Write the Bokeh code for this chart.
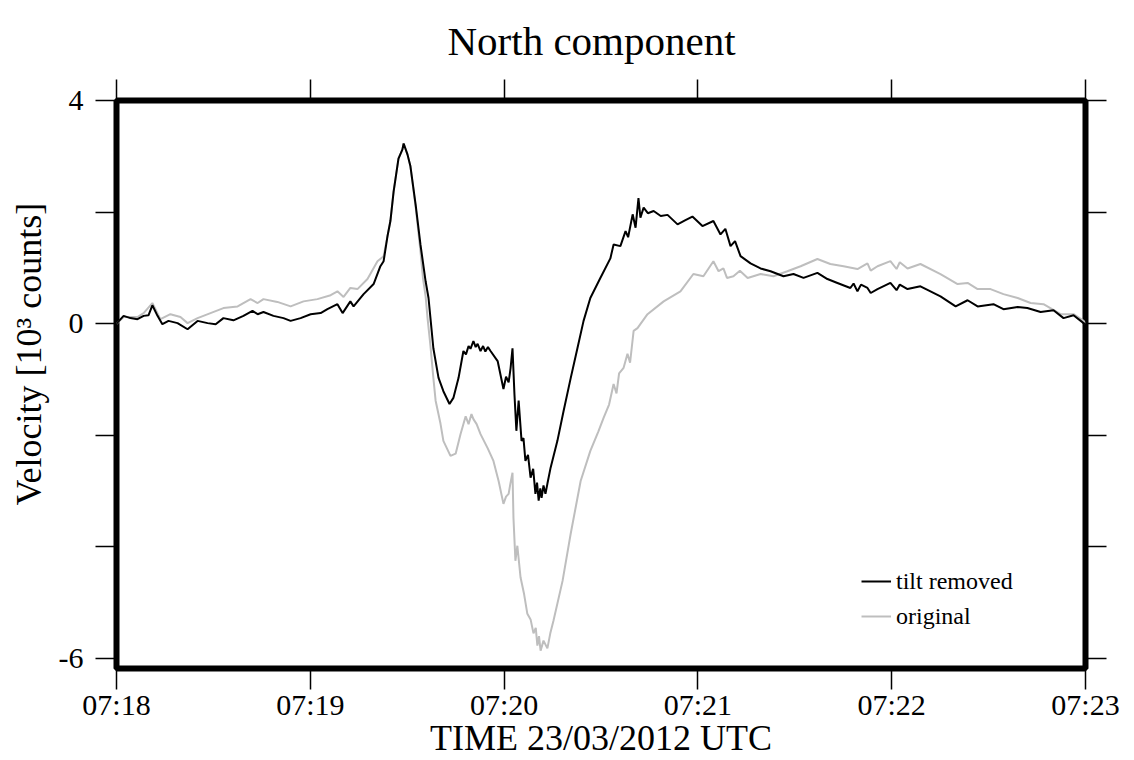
from bokeh.plotting import figure
from bokeh.models import FixedTicker, LinearAxis, Legend, LegendItem, Title
from bokeh.embed import file_html
from bokeh.resources import INLINE

FONT = "Liberation Serif"

title_text = "North component"
x_label = "TIME 23/03/2012 UTC"
y_label = "Velocity [10\u00b3 counts]"

# seconds since 07:18:00
x_ticks = [0, 60, 120, 180, 240, 300]
x_tick_labels = ["07:18", "07:19", "07:20", "07:21", "07:22", "07:23"]
y_ticks = [-6, -4, -2, 0, 2, 4]
y_tick_labels = ["-6", "", "", "0", "", "4"]

t_tilt = [0, 2.2, 4.3, 6.5, 8.4, 9.9, 11.1, 12.7, 14.2, 16.1,
          18.9, 22.0, 25.1, 28.2, 30.7, 33.1, 36.2, 39.3, 42.1, 43.7,
          45.5, 48.6, 51.7, 53.9, 57.0, 60.1, 63.2, 65.3, 68.4, 70.0,
          72.4, 73.4, 76.5, 79.6, 81.7, 82.7, 83.9, 84.8, 85.8, 87.3,
          88.5, 88.9, 90.1, 91.0, 92.6, 94.1, 95.7, 96.6, 97.2, 98.1,
          99.7, 101.2, 103.1, 104.3, 105.9, 107.4, 108.2, 109.0, 109.6, 110.5,
          111.2, 111.8, 112.7, 113.5, 114.2, 115.0, 115.8, 118.0, 119.8, 120.6,
          121.4, 122.0, 122.6, 123.2, 123.8, 124.5, 125.4, 126.0, 126.6, 127.4,
          128.2, 129.0, 129.7, 130.2, 130.7, 131.2, 131.6, 132.2, 132.8, 133.4,
          134.4, 136.5, 138.4, 140.6, 142.7, 144.6, 146.7, 149.8, 152.9, 153.9,
          156.0, 157.6, 158.4, 159.8, 160.7, 161.6, 162.2, 163.2, 164.5, 166.3,
          168.5, 170.6, 173.7, 176.0, 178.3, 181.4, 184.8, 187.0, 188.5, 190.1,
          191.5, 193.2, 196.3, 199.4, 202.5, 206.5, 209.6, 212.7, 217.0, 220.1,
          223.2, 227.2, 228.2, 229.4, 230.5, 232.5, 233.5, 235.6, 239.6, 241.5,
          242.5, 244.9, 248.9, 255.1, 259.8, 263.5, 266.6, 271.5, 274.6, 279.0,
          282.0, 286.1, 290.1, 293.2, 296.3, 299.4, 300]
v_tilt = [0.0, 0.14, 0.10, 0.08, 0.14, 0.15, 0.33, 0.14, -0.01, 0.05,
          0.01, -0.10, 0.05, 0.01, -0.01, 0.10, 0.06, 0.14, 0.23, 0.17,
          0.21, 0.14, 0.10, 0.05, 0.10, 0.17, 0.19, 0.26, 0.35, 0.19,
          0.40, 0.31, 0.53, 0.71, 1.03, 1.12, 1.57, 1.84, 2.37, 2.96,
          3.12, 3.23, 3.03, 2.82, 2.14, 1.42, 0.76, 0.46, 0.10, -0.44,
          -0.97, -1.21, -1.44, -1.33, -0.97, -0.49, -0.55, -0.40, -0.45, -0.31,
          -0.42, -0.36, -0.49, -0.40, -0.50, -0.42, -0.49, -0.67, -1.17, -0.95,
          -1.05, -0.80, -0.44, -1.26, -1.92, -1.38, -2.10, -2.05, -2.46, -2.35,
          -2.76, -2.60, -3.05, -2.85, -3.17, -2.95, -3.12, -2.90, -3.05, -2.87,
          -2.58, -2.10, -1.57, -0.98, -0.44, 0.05, 0.46, 0.82, 1.17, 1.42,
          1.39, 1.66, 1.55, 1.96, 1.72, 2.25, 1.90, 2.08, 1.98, 2.02,
          1.93, 1.95, 1.78, 1.85, 1.92, 1.75, 1.84, 1.60, 1.70, 1.39,
          1.48, 1.21, 1.08, 0.99, 0.94, 0.85, 0.89, 0.82, 0.91, 0.80,
          0.73, 0.64, 0.72, 0.58, 0.70, 0.64, 0.55, 0.62, 0.73, 0.60,
          0.70, 0.62, 0.67, 0.49, 0.31, 0.42, 0.31, 0.35, 0.26, 0.30,
          0.28, 0.21, 0.24, 0.10, 0.15, 0.01, 0.0]

t_orig = [0, 2.2, 6.5, 8.4, 11.1, 13.6, 16.7, 19.8, 22.0, 25.1,
          29.1, 33.1, 37.5, 41.5, 43.7, 45.5, 49.8, 53.9, 57.9, 62.2,
          66.3, 68.4, 70.3, 72.4, 74.6, 77.7, 80.8, 82.7, 83.9, 84.8,
          85.8, 87.3, 88.5, 88.9, 90.1, 91.0, 92.6, 94.1, 94.9, 95.7,
          96.3, 97.2, 98.1, 98.8, 100.3, 101.2, 103.4, 105.0, 106.5, 108.1,
          109.0, 109.9, 110.5, 111.5, 112.7, 114.9, 116.7, 118.3, 119.8, 120.6,
          121.4, 122.0, 122.6, 122.9, 123.5, 124.1, 125.1, 126.2, 127.2, 128.2,
          129.1, 129.8, 130.3, 130.8, 131.3, 132.2, 133.4, 134.3, 135.3, 138.1,
          140.6, 143.7, 146.7, 149.2, 150.8, 152.5, 153.9, 154.8, 155.6, 157.0,
          158.2, 159.0, 160.1, 161.3, 164.4, 169.4, 174.6, 178.6, 181.7, 184.8,
          186.4, 187.9, 189.0, 191.0, 193.0, 195.4, 199.4, 203.4, 207.7, 211.8,
          217.0, 221.0, 225.1, 229.4, 232.5, 233.5, 235.6, 239.6, 241.5, 242.5,
          244.9, 248.9, 255.1, 260.4, 263.5, 266.6, 270.6, 274.6, 279.0, 283.0,
          287.0, 292.3, 296.3, 299.4, 300]
v_orig = [0.0, 0.12, 0.12, 0.19, 0.37, 0.08, 0.17, 0.12, 0.01, 0.10,
          0.19, 0.28, 0.31, 0.44, 0.37, 0.44, 0.39, 0.31, 0.40, 0.44,
          0.51, 0.58, 0.48, 0.64, 0.62, 0.80, 1.12, 1.21, 1.57, 1.84,
          2.37, 2.96, 3.12, 3.23, 3.03, 2.82, 2.10, 1.30, 0.81, 0.49,
          0.10, -0.40, -0.97, -1.38, -1.79, -2.10, -2.37, -2.33, -1.98, -1.66,
          -1.80, -1.62, -1.71, -1.80, -1.98, -2.23, -2.46, -2.82, -3.23, -3.10,
          -3.05, -2.85, -2.67, -3.48, -4.25, -3.98, -4.55, -4.85, -5.20, -5.30,
          -5.55, -5.45, -5.77, -5.60, -5.86, -5.68, -5.82, -5.55, -5.32, -4.61,
          -3.77, -2.82, -2.28, -1.93, -1.69, -1.45, -1.08, -1.25, -0.89, -0.79,
          -0.54, -0.70, -0.13, -0.08, 0.17, 0.40, 0.58, 0.89, 0.85, 1.12,
          0.94, 0.99, 0.82, 0.85, 0.95, 0.82, 0.89, 0.85, 0.94, 1.03,
          1.16, 1.07, 1.03, 0.98, 1.08, 0.95, 1.03, 1.12, 0.98, 1.10,
          0.99, 1.07, 0.89, 0.71, 0.73, 0.62, 0.62, 0.53, 0.46, 0.37,
          0.35, 0.17, 0.17, 0.05, 0.0]

series_names = ["tilt removed", "original"]
series_colors = ["#000000", "#bebebe"]

p = figure(width=1134, height=760, x_range=(0, 300), y_range=(-6.18, 4.0),
           output_backend="svg", toolbar_location=None,
           min_border_left=116, min_border_right=49, min_border_top=100, min_border_bottom=92)
p.background_fill_color = "white"
p.border_fill_color = "white"
p.grid.visible = False
p.outline_line_color = "black"
p.outline_line_width = 6

p.title.text = title_text
p.title.text_font = FONT
p.title.text_font_size = "41px"
p.title.text_font_style = "normal"
p.title.text_color = "black"
p.title.align = "left"
p.title.offset = 331
p.title.standoff = 28
p.title.vertical_align = "top"

r_orig = p.line(t_orig, v_orig, line_color=series_colors[1], line_width=2)
r_tilt = p.line(t_tilt, v_tilt, line_color=series_colors[0], line_width=2)

def style_axis(ax, ticks, labels, show_labels):
    ax.ticker = FixedTicker(ticks=ticks)
    ax.major_label_overrides = {t: l for t, l in zip(ticks, labels)}
    ax.axis_line_color = None
    ax.major_tick_in = 0
    ax.major_tick_out = 21
    ax.major_tick_line_width = 1.5
    ax.major_tick_line_color = "black"
    ax.minor_tick_line_color = None
    ax.major_label_text_font = FONT
    ax.major_label_text_color = "black"
    if show_labels:
        ax.major_label_text_font_size = "30px"
    else:
        ax.major_label_text_font_size = "1px"
        ax.major_label_text_alpha = 0
        ax.major_label_standoff = 0
    ax.axis_label_text_font = FONT
    ax.axis_label_text_font_style = "normal"
    ax.axis_label_text_color = "black"

style_axis(p.xaxis[0], x_ticks, x_tick_labels, True)
style_axis(p.yaxis[0], y_ticks, y_tick_labels, True)
p.xaxis[0].axis_label = x_label
p.xaxis[0].axis_label_text_font_size = "36px"
p.xaxis[0].major_label_standoff = -2
p.xaxis[0].axis_label_standoff = -6
p.yaxis[0].major_label_standoff = 12

# y-axis label as a side title so it can sit where the original puts it
y_title = Title(text=y_label, align="left", offset=163, standoff=13,
                text_font=FONT, text_font_size="36px", text_font_style="normal",
                text_color="black")
p.add_layout(y_title, "left")

top_ax = LinearAxis()
style_axis(top_ax, x_ticks, [""] * len(x_ticks), False)
p.add_layout(top_ax, "above")
right_ax = LinearAxis()
style_axis(right_ax, y_ticks, [""] * len(y_ticks), False)
p.add_layout(right_ax, "right")

legend = Legend(items=[LegendItem(label=series_names[0], renderers=[r_tilt]),
                       LegendItem(label=series_names[1], renderers=[r_orig])],
                location=(745, 37))
legend.label_text_font = FONT
legend.label_text_font_size = "24px"
legend.label_text_color = "black"
legend.border_line_color = None
legend.background_fill_alpha = 0
legend.padding = 0
legend.margin = 0
legend.spacing = 5
legend.glyph_width = 30
legend.glyph_height = 30
legend.label_height = 30
legend.label_standoff = 5
p.add_layout(legend, "center")

open("out.html", "w").write(file_html(p, INLINE))
